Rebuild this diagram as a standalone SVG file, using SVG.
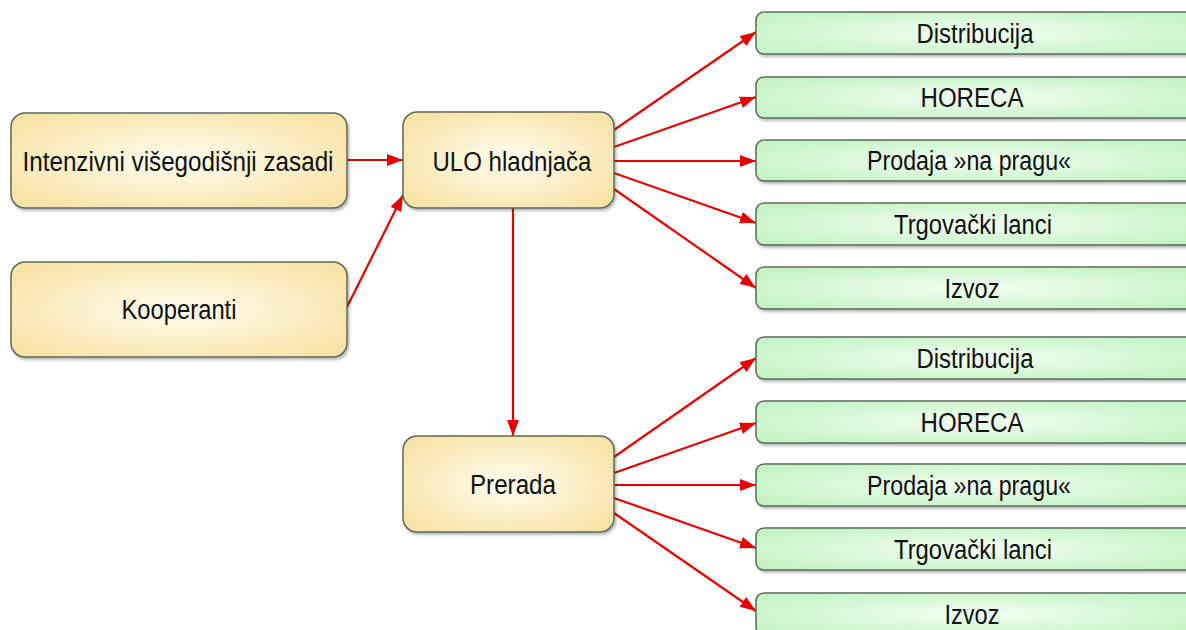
<svg xmlns="http://www.w3.org/2000/svg" width="1186" height="630" viewBox="0 0 1186 630">
<defs>
<radialGradient id="gy" cx="50%" cy="50%" r="62%">
<stop offset="0" stop-color="#fffdf0"/>
<stop offset="1" stop-color="#f8e3a6"/>
</radialGradient>
<radialGradient id="gg" cx="50%" cy="50%" r="60%">
<stop offset="0" stop-color="#f2fff2"/>
<stop offset="1" stop-color="#c6f3c6"/>
</radialGradient>
<filter id="sh" x="-10%" y="-20%" width="120%" height="150%">
<feDropShadow dx="1.5" dy="2" stdDeviation="1.8" flood-color="#000" flood-opacity="0.3"/>
</filter>
<marker id="ah" markerUnits="userSpaceOnUse" markerWidth="17" markerHeight="13" refX="16" refY="6" orient="auto">
<path d="M0,0 L16,6 L0,12 z" fill="#e60000"/>
</marker>
</defs>
<style>
.y{fill:url(#gy);stroke:#5b6b5b;stroke-width:1.5;filter:url(#sh)}
.g{fill:url(#gg);stroke:#5b6b5b;stroke-width:1.5;filter:url(#sh)}
text{font-family:"Liberation Sans",Arial,sans-serif;font-size:27px;fill:#111;text-anchor:middle}
.c line{stroke:#e60000;stroke-width:2.2;marker-end:url(#ah)}
</style>
<g class="c" id="connectors">
<line x1="347" y1="160" x2="403" y2="160"/>
<line x1="347" y1="307" x2="403" y2="195"/>
<line x1="614" y1="130" x2="756" y2="32"/>
<line x1="614" y1="147" x2="756" y2="97"/>
<line x1="614" y1="161" x2="756" y2="161"/>
<line x1="614" y1="173" x2="756" y2="223"/>
<line x1="614" y1="189" x2="756" y2="288"/>
<line x1="513" y1="208" x2="513" y2="436"/>
<line x1="614" y1="457" x2="756" y2="358"/>
<line x1="614" y1="473" x2="756" y2="423"/>
<line x1="614" y1="485" x2="756" y2="485"/>
<line x1="614" y1="498" x2="756" y2="548"/>
<line x1="614" y1="513" x2="756" y2="611"/>
</g>
<g id="intenzivni"><rect class="y" x="11" y="113" width="336" height="95" rx="14"/><text x="178" y="171" textLength="311" lengthAdjust="spacingAndGlyphs">Intenzivni višegodišnji zasadi</text></g>
<g id="kooperanti"><rect class="y" x="11" y="262" width="336" height="95" rx="14"/><text x="179" y="319" textLength="115" lengthAdjust="spacingAndGlyphs">Kooperanti</text></g>
<g id="ulo"><rect class="y" x="403" y="112" width="211" height="96" rx="14"/><text x="512" y="171" textLength="159" lengthAdjust="spacingAndGlyphs">ULO hladnjača</text></g>
<g id="prerada"><rect class="y" x="403" y="436" width="211" height="96" rx="14"/><text x="513" y="494" textLength="86" lengthAdjust="spacingAndGlyphs">Prerada</text></g>
<g id="t1"><rect class="g" x="756" y="12" width="440" height="42" rx="8"/><text x="975" y="43" textLength="117" lengthAdjust="spacingAndGlyphs">Distribucija</text></g>
<g id="t2"><rect class="g" x="756" y="77" width="440" height="41" rx="8"/><text x="972" y="107" textLength="103" lengthAdjust="spacingAndGlyphs">HORECA</text></g>
<g id="t3"><rect class="g" x="756" y="140" width="440" height="41" rx="8"/><text x="969" y="170" textLength="204" lengthAdjust="spacingAndGlyphs">Prodaja »na pragu«</text></g>
<g id="t4"><rect class="g" x="756" y="203" width="440" height="42" rx="8"/><text x="973" y="234" textLength="158" lengthAdjust="spacingAndGlyphs">Trgovački lanci</text></g>
<g id="t5"><rect class="g" x="756" y="267" width="440" height="42" rx="8"/><text x="972" y="298" textLength="55" lengthAdjust="spacingAndGlyphs">Izvoz</text></g>
<g id="b1"><rect class="g" x="756" y="337" width="440" height="42" rx="8"/><text x="975" y="368" textLength="117" lengthAdjust="spacingAndGlyphs">Distribucija</text></g>
<g id="b2"><rect class="g" x="756" y="401" width="440" height="42" rx="8"/><text x="972" y="432" textLength="103" lengthAdjust="spacingAndGlyphs">HORECA</text></g>
<g id="b3"><rect class="g" x="756" y="464" width="440" height="42" rx="8"/><text x="969" y="495" textLength="204" lengthAdjust="spacingAndGlyphs">Prodaja »na pragu«</text></g>
<g id="b4"><rect class="g" x="756" y="528" width="440" height="42" rx="8"/><text x="973" y="559" textLength="158" lengthAdjust="spacingAndGlyphs">Trgovački lanci</text></g>
<g id="b5"><rect class="g" x="756" y="593" width="440" height="42" rx="8"/><text x="972" y="624" textLength="55" lengthAdjust="spacingAndGlyphs">Izvoz</text></g>
</svg>
